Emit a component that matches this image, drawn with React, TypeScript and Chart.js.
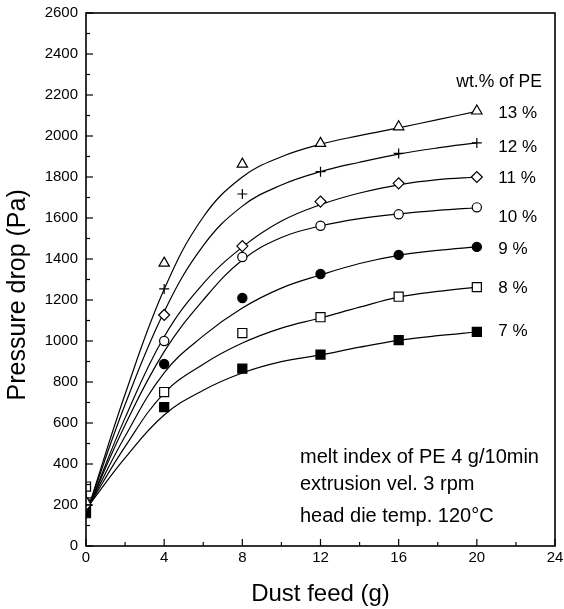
import React, { useEffect, useRef } from 'react';
import { Chart, registerables } from 'chart.js';

Chart.register(...registerables);

// ---- data ----
const seriesNames = ['13 %', '12 %', '11 %', '10 %', '9 %', '8 %', '7 %'];
const feedX = [0, 4, 8, 12, 16, 20];
const pe13 = [215, 1380, 1863, 1964, 2045, 2122];
const pe12 = [235, 1254, 1717, 1826, 1915, 1966];
const pe11 = [200, 1127, 1463, 1680, 1769, 1800];
const pe10 = [210, 1000, 1410, 1562, 1618, 1652];
const pe9 = [190, 888, 1210, 1327, 1420, 1459];
const pe8 = [290, 751, 1039, 1116, 1216, 1263];
const pe7 = [160, 678, 865, 934, 1004, 1044];

// fitted curves
const fitX = [0.2, 2, 4, 6, 8, 10, 12, 14, 16, 18, 20];
const fit13 = [210, 740, 1252, 1605, 1800, 1899, 1960, 2002, 2040, 2080, 2120];
const fit12 = [210, 690, 1143, 1465, 1658, 1761, 1826, 1872, 1912, 1942, 1966];
const fit11 = [205, 625, 1021, 1280, 1458, 1585, 1665, 1722, 1762, 1787, 1800];
const fit10 = [205, 590, 948, 1200, 1395, 1505, 1561, 1597, 1620, 1637, 1650];
const fit9 = [205, 535, 845, 1025, 1161, 1258, 1322, 1378, 1418, 1442, 1459];
const fit8 = [205, 485, 746, 887, 990, 1063, 1112, 1165, 1214, 1242, 1263];
const fit7 = [205, 430, 639, 760, 844, 899, 932, 970, 1003, 1026, 1044];

const xTicks = [0, 4, 8, 12, 16, 20, 24];
const yTicks = [0, 200, 400, 600, 800, 1000, 1200, 1400, 1600, 1800, 2000, 2200, 2400, 2600];

const seriesData = [pe13, pe12, pe11, pe10, pe9, pe8, pe7];
const fitData = [fit13, fit12, fit11, fit10, fit9, fit8, fit7];

// label anchors (data coordinates)
const labelX = 21.1;
const labelY = [2112, 1946, 1795, 1605, 1449, 1259, 1049];
const headerText = 'wt.% of PE';
const headerPos = { x: 18.95, y: 2263 };
const notes = ['melt index of PE 4 g/10min', 'extrusion vel. 3 rpm', 'head die temp. 120°C'];
const notesX = 10.95;
const notesY = [405, 273, 117];
const yTitle = 'Pressure drop (Pa)';
const yTitleCenter = 1225; // data value at the title's middle

const markerStyles = [
  { pointStyle: 'triangle', r: 6, fill: '#ffffff' },
  { pointStyle: 'cross', r: 5, fill: '#000000' },
  { pointStyle: 'rectRot', r: 5.5, fill: '#ffffff' },
  { pointStyle: 'circle', r: 4.6, fill: '#ffffff' },
  { pointStyle: 'circle', r: 4.6, fill: '#000000' },
  { pointStyle: 'rect', r: 6.4, fill: '#ffffff' },
  { pointStyle: 'rect', r: 6.4, fill: '#000000' },
];

const FONT = '"Liberation Sans", Arial, Helvetica, sans-serif';

const framePlugin = {
  id: 'frame',
  afterDraw(chart: any) {
    const { ctx, chartArea: ca, scales } = chart;
    const xs = scales.x;
    const ys = scales.y;
    ctx.save();
    ctx.strokeStyle = '#000';
    ctx.lineWidth = 1.6;
    ctx.strokeRect(ca.left, ca.top, ca.right - ca.left, ca.bottom - ca.top);
    ctx.lineWidth = 1.2;
    for (let v = 0; v <= 2600; v += 100) {
      const p = ys.getPixelForValue(v);
      const len = v % 200 === 0 ? 7 : 4;
      ctx.beginPath();
      ctx.moveTo(ca.left, p);
      ctx.lineTo(ca.left + len, p);
      ctx.stroke();
    }
    for (let v = 0; v <= 24; v += 2) {
      const p = xs.getPixelForValue(v);
      const len = v % 4 === 0 ? 7 : 4;
      ctx.beginPath();
      ctx.moveTo(p, ca.bottom);
      ctx.lineTo(p, ca.bottom - len);
      ctx.stroke();
    }
    ctx.fillStyle = '#000';
    ctx.textAlign = 'left';
    ctx.textBaseline = 'middle';
    ctx.font = `17.5px ${FONT}`;
    ctx.fillText(headerText, xs.getPixelForValue(headerPos.x), ys.getPixelForValue(headerPos.y));
    ctx.font = `17px ${FONT}`;
    seriesNames.forEach((n, i) => {
      ctx.fillText(n, xs.getPixelForValue(labelX), ys.getPixelForValue(labelY[i]));
    });
    ctx.textBaseline = 'alphabetic';
    ctx.font = `20px ${FONT}`;
    notes.forEach((n, i) => {
      ctx.fillText(n, xs.getPixelForValue(notesX), ys.getPixelForValue(notesY[i]));
    });
    ctx.save();
    ctx.translate(18, ys.getPixelForValue(yTitleCenter));
    ctx.rotate(-Math.PI / 2);
    ctx.textAlign = 'center';
    ctx.textBaseline = 'middle';
    ctx.font = `25px ${FONT}`;
    ctx.fillText(yTitle, 0, 0);
    ctx.restore();
    ctx.restore();
  },
};

export default function App() {
  const ref = useRef<HTMLCanvasElement>(null);
  useEffect(() => {
    if (!ref.current) return;
    const datasets: any[] = [];
    fitData.forEach((f, i) => {
      datasets.push({
        label: 'fit ' + seriesNames[i],
        data: fitX.map((x, j) => ({ x, y: f[j] })),
        showLine: true,
        borderColor: '#000',
        borderWidth: 1.2,
        pointRadius: 0,
        tension: 0.4,
        fill: false,
        order: 2,
      });
    });
    seriesData.forEach((s, i) => {
      const m = markerStyles[i];
      datasets.push({
        label: seriesNames[i],
        data: feedX.map((x, j) => ({ x, y: s[j] })),
        showLine: false,
        pointStyle: m.pointStyle,
        pointRadius: m.r,
        pointBackgroundColor: m.fill,
        pointBorderColor: '#000',
        pointBorderWidth: 1.2,
        order: 1,
      });
    });
    const chart = new Chart(ref.current, {
      type: 'scatter',
      data: { datasets },
      plugins: [framePlugin],
      options: {
        animation: false,
        responsive: false,
        layout: { padding: { top: 13, right: 9, left: 0, bottom: 0 } },
        plugins: { legend: { display: false }, tooltip: { enabled: false } },
        scales: {
          x: {
            type: 'linear',
            min: 0,
            max: 24,
            afterBuildTicks: (s: any) => { s.ticks = xTicks.map((v) => ({ value: v })); },
            afterFit: (s: any) => { s.height = 63; s.paddingLeft = 0; s.paddingRight = 0; },
            grid: { display: false, drawTicks: false },
            border: { display: false },
            ticks: {
              color: '#000', padding: 3, font: { family: FONT, size: 15 }, maxRotation: 0,
              callback: (v: any) => String(v),
            },
            title: {
              display: true,
              text: 'Dust feed (g)',
              color: '#000',
              font: { family: FONT, size: 24 },
              padding: { top: 0, bottom: 0 },
            },
          },
          y: {
            type: 'linear',
            min: 0,
            max: 2600,
            afterBuildTicks: (s: any) => { s.ticks = yTicks.map((v) => ({ value: v })); },
            afterFit: (s: any) => { s.width = 86; s.paddingTop = 0; s.paddingBottom = 0; },
            grid: { display: false, drawTicks: false },
            border: { display: false },
            ticks: {
              color: '#000', padding: 8, font: { family: FONT, size: 15 },
              callback: (v: any) => String(v),
            },
            title: { display: false },
          },
        },
      } as any,
    });
    return () => chart.destroy();
  }, []);
  return (
    <div style={{ position: 'absolute', left: 0, top: 0, width: 564, height: 609, background: '#fff' }}>
      <canvas ref={ref} width={564} height={609} style={{ width: 564, height: 609, display: 'block' }} />
    </div>
  );
}
